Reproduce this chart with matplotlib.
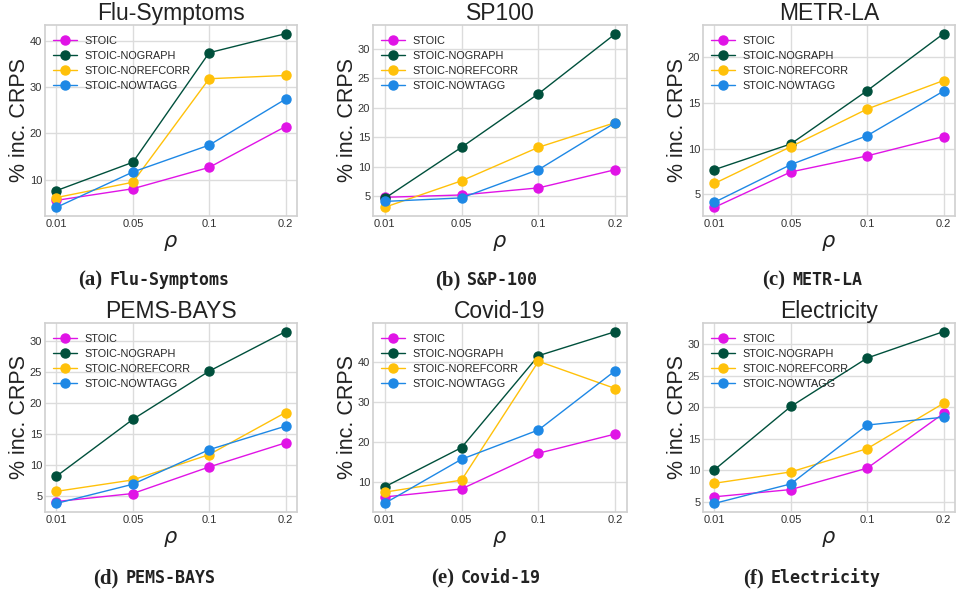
import matplotlib
matplotlib.use("Agg")
import matplotlib.pyplot as plt
from matplotlib.offsetbox import AnchoredOffsetbox, HPacker, TextArea
from matplotlib.ticker import MultipleLocator

# ------------------------------------------------------------
# Data
# ------------------------------------------------------------
rho_labels = ["0.01", "0.05", "0.1", "0.2"]
methods = ["STOIC", "STOIC-NOGRAPH", "STOIC-NOREFCORR", "STOIC-NOWTAGG"]
colors = ["#e014e6", "#00503c", "#ffc10a", "#1e88e5"]

titles = ["Flu-Symptoms", "SP100", "METR-LA", "PEMS-BAYS", "Covid-19", "Electricity"]
captions = ["Flu-Symptoms", "S&P-100", "METR-LA", "PEMS-BAYS", "Covid-19", "Electricity"]
letters = ["(a)", "(b)", "(c)", "(d)", "(e)", "(f)"]
ytick_steps = [10, 5, 5, 5, 10, 5]

flu = [
    [5.6, 8.1, 12.7, 21.5],
    [7.7, 13.8, 37.4, 41.5],
    [6.2, 9.5, 31.8, 32.5],
    [4.1, 11.7, 17.5, 27.4],
]
sp100 = [
    [4.8, 5.2, 6.4, 9.5],
    [4.6, 13.3, 22.4, 32.6],
    [3.1, 7.6, 13.3, 17.5],
    [4.1, 4.7, 9.5, 17.5],
]
metrla = [
    [3.6, 7.45, 9.2, 11.3],
    [7.7, 10.5, 16.3, 22.5],
    [6.2, 10.2, 14.3, 17.4],
    [4.15, 8.25, 11.4, 16.25],
]
pems = [
    [4.1, 5.4, 9.7, 13.6],
    [8.2, 17.4, 25.2, 31.6],
    [5.75, 7.6, 11.7, 18.5],
    [3.8, 6.9, 12.5, 16.3],
]
covid = [
    [6.3, 8.3, 17.2, 22.0],
    [8.8, 18.6, 41.5, 47.5],
    [7.5, 10.5, 40.1, 33.3],
    [4.7, 15.7, 23.0, 37.8],
]
electricity = [
    [5.75, 6.9, 10.3, 19.0],
    [10.05, 20.1, 27.8, 32.0],
    [7.9, 9.7, 13.4, 20.6],
    [4.7, 7.8, 17.15, 18.4],
]
all_data = [flu, sp100, metrla, pems, covid, electricity]

# ------------------------------------------------------------
# Style
# ------------------------------------------------------------
plt.style.use("seaborn-v0_8-whitegrid")
plt.rcParams["font.family"] = ["Liberation Sans", "DejaVu Sans"]
plt.rcParams["mathtext.fontset"] = "dejavusans"

W, H = 956, 593
fig = plt.figure(figsize=(W / 100, H / 100), dpi=100)

# axes boxes in pixels: left, right, top, bottom
col_x = [(45, 297), (373, 627), (703, 955)]
row_y = [(25, 216), (323, 512)]
cap_x = [154, 486, 812]
cap_y = [280, 578]

for i, data in enumerate(all_data):
    r, c = divmod(i, 3)
    x0, x1 = col_x[c]
    y0, y1 = row_y[r]
    ax = fig.add_axes([x0 / W, 1 - y1 / H, (x1 - x0) / W, (y1 - y0) / H])

    xs = range(len(rho_labels))
    for name, vals, col in zip(methods, data, colors):
        ax.plot(xs, vals, marker="o", markersize=6.5, linewidth=1.0,
                color=col, label=name)

    ax.set_xticks(list(xs))
    ax.set_xticklabels(rho_labels)
    ax.yaxis.set_major_locator(MultipleLocator(ytick_steps[i]))
    ax.tick_params(labelsize=8, colors="#333333", pad=2)
    ax.set_title(titles[i], fontsize=16.5, pad=2.5, color="#222222")
    ax.set_ylabel("% inc. CRPS", fontsize=15.5, color="#222222", labelpad=0)
    ax.set_xlabel(r"$\rho$", fontsize=15, color="#222222", labelpad=3)
    for sp in ax.spines.values():
        sp.set_color("#d0d0d0")
        sp.set_linewidth(1.2)
    ax.grid(True, color="#dcdcdc", linewidth=1.0)
    ax.legend(loc="upper left", bbox_to_anchor=(0.0, 0.985), fontsize=7.8,
              frameon=False, handlelength=2.2, handletextpad=0.65,
              borderaxespad=0.35, labelspacing=0.45)

    # caption below each panel: serif letter + monospace dataset name
    packer = HPacker(children=[
        TextArea(letters[i], textprops=dict(family="Liberation Serif",
                                            weight="bold", size=15, color="#222222")),
        TextArea(captions[i], textprops=dict(family="DejaVu Sans Mono",
                                             weight="bold", size=12, color="#222222")),
    ], sep=5, align="baseline", pad=0)
    box = AnchoredOffsetbox(loc="center", child=packer, frameon=False, pad=0,
                            borderpad=0,
                            bbox_to_anchor=(cap_x[c] / W, 1 - cap_y[r] / H),
                            bbox_transform=fig.transFigure)
    fig.add_artist(box)

fig.savefig("out.png", dpi=100)
